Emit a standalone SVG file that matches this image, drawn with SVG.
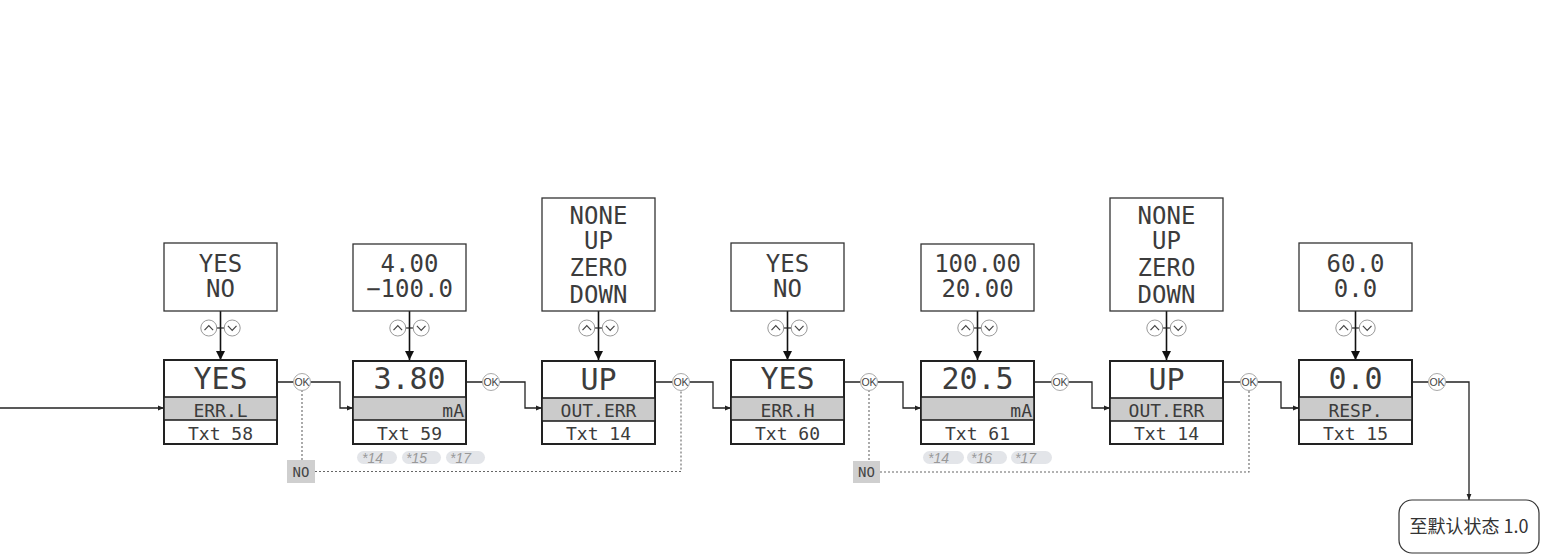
<svg xmlns="http://www.w3.org/2000/svg" width="1553" height="556" viewBox="0 0 1553 556">
<style>
.bg{fill:#ffffff}
.top{fill:#ffffff;stroke:#333;stroke-width:1.3}
.main{fill:#ffffff;stroke:#222;stroke-width:2}
.gray{fill:#cbcbcb;stroke:#222;stroke-width:1.6}
.lcd{font-family:"DejaVu Sans Mono","Liberation Mono",monospace;fill:#3c3c3c;text-anchor:middle}
.t24{font-size:24px}
.t30{font-size:30px}
.t18{font-size:18px}
.end{text-anchor:end}
.conn{fill:none;stroke:#222;stroke-width:1.3}
.varr{fill:none;stroke:#111;stroke-width:1.6}
.dot{fill:none;stroke:#666;stroke-width:1.1;stroke-dasharray:2 2}
.ok{fill:#fff;stroke:#aaa;stroke-width:1}
.okt{font-family:"Liberation Sans",Arial,sans-serif;font-size:10.5px;fill:#444;text-anchor:middle}
.ud{fill:#fff;stroke:#999;stroke-width:1}
.chev{fill:none;stroke:#444;stroke-width:1.2}
.nobox{fill:#cfcfcf}
.not{font-family:"DejaVu Sans Mono","Liberation Mono",monospace;font-size:14px;fill:#444;text-anchor:middle}
.pill{fill:#e3e5e9}
.pt{font-family:"Liberation Sans",Arial,sans-serif;font-size:14px;font-style:italic;fill:#999}
.final{fill:#fff;stroke:#333;stroke-width:1.2}
.ft{font-family:"Noto Sans CJK SC","Noto Sans",sans-serif;font-size:18px;fill:#333;text-anchor:middle}
</style>
<defs>
<marker id="ab" viewBox="0 0 10 10" refX="10" refY="5" markerWidth="9" markerHeight="9" markerUnits="userSpaceOnUse" orient="auto"><path d="M0,0 L10,5 L0,10 Z" fill="#111"/></marker>
<marker id="as" viewBox="0 0 10 10" refX="10" refY="5" markerWidth="6" markerHeight="6" markerUnits="userSpaceOnUse" orient="auto"><path d="M0,1 L10,5 L0,9 Z" fill="#222"/></marker>
<g id="updown">
<line x1="-4.5" y1="0" x2="4.5" y2="0" stroke="#222" stroke-width="1.2"/>
<circle class="ud" cx="-11.7" cy="0" r="8"/>
<circle class="ud" cx="11.7" cy="0" r="8"/>
<path class="chev" d="M-16,2.2 L-11.7,-2.3 L-7.4,2.2"/>
<path class="chev" d="M7.4,-2.2 L11.7,2.3 L16,-2.2"/>
</g>
<g id="okc">
<circle class="ok" cx="0" cy="0" r="8.5"/>
<text class="okt" x="0" y="3.8">OK</text>
</g>
</defs>
<rect class="bg" width="1553" height="556"/>

<g id="connectors">
<path class="conn" d="M0,408 H164" marker-end="url(#as)"/>
<path class="conn" d="M277,382 H340 V408 H353" marker-end="url(#as)"/>
<path class="conn" d="M466,382 H525 V408 H542" marker-end="url(#as)"/>
<path class="conn" d="M655,382 H713 V408 H731" marker-end="url(#as)"/>
<path class="conn" d="M844,382 H903 V408 H921" marker-end="url(#as)"/>
<path class="conn" d="M1034,382 H1092 V408 H1110" marker-end="url(#as)"/>
<path class="conn" d="M1223,382 H1281 V408 H1299" marker-end="url(#as)"/>
<path class="conn" d="M1412,382 H1469 V500" marker-end="url(#as)"/>
<path class="varr" d="M220.5,311 V360" marker-end="url(#ab)"/>
<path class="varr" d="M409.5,311 V360" marker-end="url(#ab)"/>
<path class="varr" d="M598.5,311 V360" marker-end="url(#ab)"/>
<path class="varr" d="M787.5,311 V360" marker-end="url(#ab)"/>
<path class="varr" d="M977.5,311 V360" marker-end="url(#ab)"/>
<path class="varr" d="M1166.5,311 V360" marker-end="url(#ab)"/>
<path class="varr" d="M1355.5,311 V360" marker-end="url(#ab)"/>
<path class="dot" d="M302,390 V460"/>
<path class="dot" d="M315,471.5 H681 V390"/>
<path class="dot" d="M869,390 V461"/>
<path class="dot" d="M880,472 H1249 V390"/>
<use href="#updown" x="220.5" y="328"/>
<use href="#updown" x="409.5" y="328"/>
<use href="#updown" x="598.5" y="328"/>
<use href="#updown" x="787.5" y="328"/>
<use href="#updown" x="977.5" y="328"/>
<use href="#updown" x="1166.5" y="328"/>
<use href="#updown" x="1355.5" y="328"/>
<use href="#okc" x="302" y="382"/>
<use href="#okc" x="491" y="382"/>
<use href="#okc" x="681" y="382"/>
<use href="#okc" x="869" y="382"/>
<use href="#okc" x="1060" y="382"/>
<use href="#okc" x="1249" y="382"/>
<use href="#okc" x="1437" y="382"/>
</g>

<g id="no1">
<rect class="nobox" x="287" y="460" width="28" height="23"/>
<text class="not" x="301" y="476.5">NO</text>
</g>
<g id="no2">
<rect class="nobox" x="853" y="461" width="27" height="22"/>
<text class="not" x="866.5" y="477">NO</text>
</g>

<g id="n1">
<rect class="top" x="164" y="243" width="113" height="68"/>
<text class="lcd t24" x="220.5" y="272">YES</text>
<text class="lcd t24" x="220.5" y="297">NO</text>
<rect class="main" x="164" y="360" width="113" height="84"/>
<rect class="gray" x="164" y="397" width="113" height="23"/>
<text class="lcd t30" x="220.5" y="389">YES</text>
<text class="lcd t18" x="220.5" y="416.5">ERR.L</text>
<text class="lcd t18" x="220.5" y="439.5">Txt 58</text>
</g>

<g id="n2">
<rect class="top" x="353" y="244" width="113" height="67"/>
<text class="lcd t24" x="409.5" y="272">4.00</text>
<text class="lcd t24" x="409.5" y="297">−100.0</text>
<rect class="main" x="353" y="361" width="113" height="83"/>
<rect class="gray" x="353" y="397" width="113" height="23"/>
<text class="lcd t30" x="409.5" y="389">3.80</text>
<text class="lcd t18 end" x="464" y="416.5">mA</text>
<text class="lcd t18" x="409.5" y="439.5">Txt 59</text>
<rect class="pill" x="357" y="451" width="40" height="13" rx="6.5"/>
<rect class="pill" x="402" y="451" width="39" height="13" rx="6.5"/>
<rect class="pill" x="446" y="451" width="39" height="13" rx="6.5"/>
<text class="pt" x="362" y="463">*14</text>
<text class="pt" x="406" y="463">*15</text>
<text class="pt" x="450" y="463">*17</text>
</g>

<g id="n3">
<rect class="top" x="542" y="198" width="113" height="113"/>
<text class="lcd t24" x="598.5" y="223.5">NONE</text>
<text class="lcd t24" x="598.5" y="249">UP</text>
<text class="lcd t24" x="598.5" y="276">ZERO</text>
<text class="lcd t24" x="598.5" y="303">DOWN</text>
<rect class="main" x="542" y="361" width="113" height="83"/>
<rect class="gray" x="542" y="398" width="113" height="23"/>
<text class="lcd t30" x="598.5" y="390">UP</text>
<text class="lcd t18" x="598.5" y="416.5">OUT.ERR</text>
<text class="lcd t18" x="598.5" y="440">Txt 14</text>
</g>

<g id="n4">
<rect class="top" x="731" y="243" width="113" height="68"/>
<text class="lcd t24" x="787.5" y="272">YES</text>
<text class="lcd t24" x="787.5" y="297">NO</text>
<rect class="main" x="731" y="360" width="113" height="84"/>
<rect class="gray" x="731" y="397" width="113" height="23"/>
<text class="lcd t30" x="787.5" y="389">YES</text>
<text class="lcd t18" x="787.5" y="416.5">ERR.H</text>
<text class="lcd t18" x="787.5" y="439.5">Txt 60</text>
</g>

<g id="n5">
<rect class="top" x="921" y="244" width="113" height="67"/>
<text class="lcd t24" x="977.5" y="272">100.00</text>
<text class="lcd t24" x="977.5" y="297">20.00</text>
<rect class="main" x="921" y="361" width="113" height="83"/>
<rect class="gray" x="921" y="397" width="113" height="23"/>
<text class="lcd t30" x="977.5" y="389">20.5</text>
<text class="lcd t18 end" x="1032" y="416.5">mA</text>
<text class="lcd t18" x="977.5" y="439.5">Txt 61</text>
<rect class="pill" x="923" y="451" width="41" height="13" rx="6.5"/>
<rect class="pill" x="967" y="451" width="40" height="13" rx="6.5"/>
<rect class="pill" x="1011" y="451" width="41" height="13" rx="6.5"/>
<text class="pt" x="928" y="463">*14</text>
<text class="pt" x="971" y="463">*16</text>
<text class="pt" x="1015" y="463">*17</text>
</g>

<g id="n6">
<rect class="top" x="1110" y="198" width="113" height="113"/>
<text class="lcd t24" x="1166.5" y="223.5">NONE</text>
<text class="lcd t24" x="1166.5" y="249">UP</text>
<text class="lcd t24" x="1166.5" y="276">ZERO</text>
<text class="lcd t24" x="1166.5" y="303">DOWN</text>
<rect class="main" x="1110" y="361" width="113" height="83"/>
<rect class="gray" x="1110" y="398" width="113" height="23"/>
<text class="lcd t30" x="1166.5" y="390">UP</text>
<text class="lcd t18" x="1166.5" y="416.5">OUT.ERR</text>
<text class="lcd t18" x="1166.5" y="440">Txt 14</text>
</g>

<g id="n7">
<rect class="top" x="1299" y="243" width="113" height="68"/>
<text class="lcd t24" x="1355.5" y="272">60.0</text>
<text class="lcd t24" x="1355.5" y="297">0.0</text>
<rect class="main" x="1299" y="360" width="113" height="84"/>
<rect class="gray" x="1299" y="397" width="113" height="23"/>
<text class="lcd t30" x="1355.5" y="389">0.0</text>
<text class="lcd t18" x="1355.5" y="416.5">RESP.</text>
<text class="lcd t18" x="1355.5" y="439.5">Txt 15</text>
</g>

<g id="final">
<rect class="final" x="1399" y="500" width="140" height="53" rx="13"/>
<text class="ft" x="1469" y="533">至默认状态 1.0</text>
</g>
</svg>
